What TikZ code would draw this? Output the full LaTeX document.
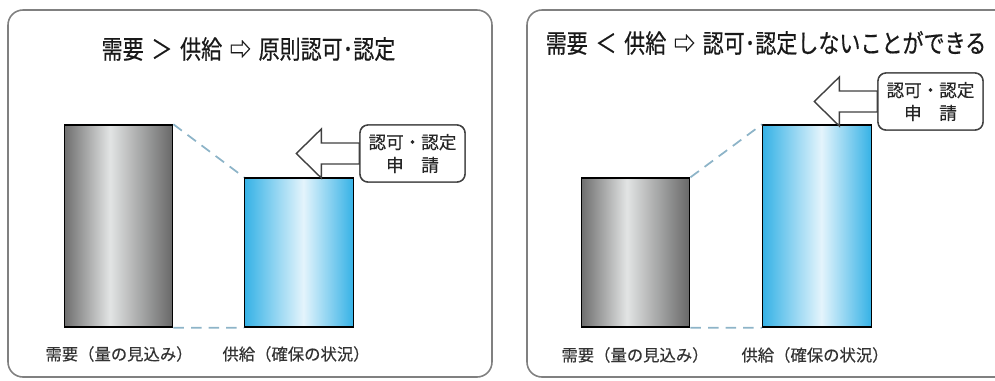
\documentclass[tikz,border=0pt]{standalone}
\usepackage{fontspec}
\setmainfont{Noto Sans CJK JP}
\newfontfamily\headfont[FakeStretch=0.82,FakeBold=0.5]{Noto Sans CJK JP}
\newfontfamily\notefont[FakeBold=0.3]{Noto Sans CJK JP}
\usetikzlibrary{calc,positioning}

\newcommand\tgap{\hspace{0.3em}}

\definecolor{bargray}{HTML}{6E6E6E}
\definecolor{barlight}{HTML}{E2E4E4}
\definecolor{bardark}{HTML}{686868}
\definecolor{barblue}{HTML}{36B2E6}
\definecolor{barpale}{HTML}{E4F4FC}
\definecolor{dashblue}{HTML}{8DB4C8}

\pgfdeclarehorizontalshading{grayshade}{100bp}{color(0bp)=(bargray); color(25bp)=(bargray); color(46bp)=(barlight); color(75bp)=(bardark); color(100bp)=(bardark)}
\pgfdeclarehorizontalshading{blueshade}{100bp}{color(0bp)=(barblue); color(25bp)=(barblue); color(52bp)=(barpale); color(75bp)=(barblue); color(100bp)=(barblue)}

\begin{document}
\begin{tikzpicture}
[
	x=0.02cm, y=-0.02cm,
	panel/.style={draw=black!50, line width=0.9pt, rounded corners=0.3cm},
	bar/.style={rectangle, draw=black, line width=0.8pt, minimum width=2.17cm, inner sep=0pt, shade},
	needbar/.style={bar, shading=grayshade},
	supplybar/.style={bar, shading=blueshade},
	guide/.style={draw=dashblue, dash pattern=on 6pt off 4pt, line width=1pt},
	callout/.style={rectangle, draw=black!75, fill=white, line width=0.8pt, rounded corners=0.16cm, minimum width=2.1cm, minimum height=1.14cm, align=center, inner sep=0pt, font=\notefont\fontsize{10}{13}\selectfont, text=black!85},
	callarrow/.style={draw=black!75, fill=white, line width=0.8pt},
	headline/.style={font=\headfont\fontsize{14.6}{17}\selectfont, text=black!90},
	caption/.style={font=\notefont\fontsize{9.3}{11}\selectfont, text=black!80},
]
	\useasboundingbox (0,0) rectangle (995,380);
	\clip (0,0) rectangle (995,380);

	% demand larger than supply
	\begin{scope}
		\draw[panel] (8,10) rectangle (492,377);
		\node[headline] (head1) at (248.5,49) {需要\tgap{}＞\tgap{}供給\tgap{}⇨\tgap{}原則認可･認定};

		\node[needbar, minimum height=4.04cm] (need1) at (118.5,226) {};
		\node[supplybar, minimum height=2.98cm] (supply1) at (299,252.5) {};
		\draw[guide] (need1.north east) -- (supply1.north west);
		\draw[guide] (need1.south east) -- (supply1.south west);

		\node[callout] (req1) at (412.5,153.5) {認可・認定\\申　請};
		\draw[callarrow] ($(req1.west)+(0,-10.5)$) -- ++(-38,0) -- ++(0,-14) -- ++(-25,24.5) -- ++(25,24.5) -- ++(0,-14) -- ++(38,0) -- cycle;
		\node[callout] at (req1) {認可・認定\\申　請};

		\node[caption] (cap1) at (119,354) {需要（量の見込み）};
		\node[caption] (cap2) at (296,354) {供給（確保の状況）};
	\end{scope}

	% demand smaller than supply
	\begin{scope}[shift={(518,0)}]
		\draw[panel] (9,10) rectangle (492,377);
		\node[headline] (head2) at (248,43) {需要\tgap{}＜\tgap{}供給\tgap{}⇨\tgap{}認可･認定しないことができる};

		\node[needbar, minimum height=2.98cm] (need2) at (117.5,252.5) {};
		\node[supplybar, minimum height=4.04cm] (supply2) at (299,226) {};
		\draw[guide] (need2.north east) -- (supply2.north west);
		\draw[guide] (need2.south east) -- (supply2.south west);

		\node[callout] (req2) at (412.5,101.5) {認可・認定\\申　請};
		\draw[callarrow] ($(req2.west)+(0,-10.5)$) -- ++(-38,0) -- ++(0,-14) -- ++(-25,24.5) -- ++(25,24.5) -- ++(0,-14) -- ++(38,0) -- cycle;
		\node[callout] at (req2) {認可・認定\\申　請};

		\node[caption] (cap3) at (117,355) {需要（量の見込み）};
		\node[caption] (cap4) at (297,355) {供給（確保の状況）};
	\end{scope}
\end{tikzpicture}
\end{document}
